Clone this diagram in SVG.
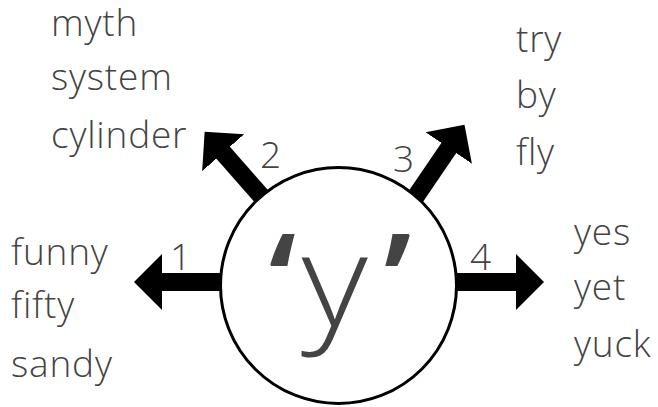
<svg xmlns="http://www.w3.org/2000/svg" width="658" height="407" viewBox="0 0 658 407">
<style>
.w,.n{font-family:"Open Sans","DejaVu Sans",sans-serif;font-weight:300;font-size:37px;letter-spacing:0.8px;fill:#444}
.c{font-family:"Open Sans","DejaVu Sans",sans-serif;font-weight:300;font-size:130px;fill:#444}
.q{font-weight:600}
.a{stroke:#000;stroke-width:18;fill:none;marker-end:url(#ah)}
</style>
<defs>
<marker id="ah" markerUnits="userSpaceOnUse" markerWidth="30" markerHeight="60" viewBox="0 -30 30 60" refX="1" refY="0" orient="auto"><path d="M0,-28 L28,0 L0,28 z" fill="#000"/></marker>
</defs>
<g id="connectors">
<line class="a" x1="300" y1="282" x2="161" y2="282"/>
<line class="a" x1="288.5" y1="227" x2="222.5" y2="152"/>
<line class="a" x1="393" y1="230" x2="449.3" y2="147.2"/>
<line class="a" x1="380" y1="282" x2="517" y2="282"/>
</g>
<g id="center">
<circle cx="338.5" cy="285.5" r="118" fill="#fff" stroke="#000" stroke-width="3"/>
<text class="c" y="327.5" transform="scale(1.11,1)"><tspan class="q" x="242">‘</tspan><tspan x="271.6">y</tspan><tspan class="q" x="345.6">’</tspan></text>
</g>
<g id="label1"><text class="n" x="170" y="270">1</text></g>
<g id="label2"><text class="n" x="260" y="168">2</text></g>
<g id="label3"><text class="n" x="393" y="172">3</text></g>
<g id="label4"><text class="n" x="470" y="270">4</text></g>
<g id="group1">
<text class="w" x="11" y="265">funny</text>
<text class="w" x="11" y="318">fifty</text>
<text class="w" x="11" y="377">sandy</text>
</g>
<g id="group2">
<text class="w" x="51" y="35.5">myth</text>
<text class="w" x="51" y="90">system</text>
<text class="w" x="51" y="148">cylinder</text>
</g>
<g id="group3">
<text class="w" x="516" y="52">try</text>
<text class="w" x="516" y="108">by</text>
<text class="w" x="516" y="165">fly</text>
</g>
<g id="group4">
<text class="w" x="574" y="245">yes</text>
<text class="w" x="574" y="300">yet</text>
<text class="w" x="574" y="357">yuck</text>
</g>
</svg>
